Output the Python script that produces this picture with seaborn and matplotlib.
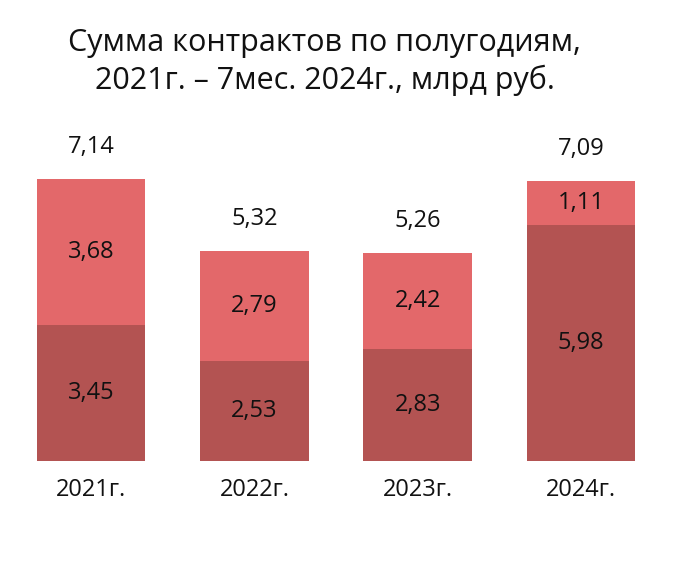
import matplotlib
matplotlib.use('Agg')
import matplotlib.pyplot as plt
import seaborn as sns
import pandas as pd

years = ["2021г.", "2022г.", "2023г.", "2024г."]
first_half = [3.45, 2.53, 2.83, 5.98]
second_half = [3.68, 2.79, 2.42, 1.11]
totals = [7.14, 5.32, 5.26, 7.09]

dark = "#b35352"
light = "#e3686a"

sns.set_theme(style="white")
plt.rcParams['font.family'] = ['Open Sans', 'DejaVu Sans']

df = pd.DataFrame({"year": years, "h1": first_half, "h2": second_half, "total": totals})

fig = plt.figure(figsize=(6.84, 5.65), dpi=100)
ax = fig.add_axes([0.0139, 0.184, 0.955, 0.6035])

# stacked: draw totals in light, then bottom half in dark on top
sns.barplot(data=df, x="year", y="total", color=light, saturation=1, width=0.665,
            linewidth=0, ax=ax)
sns.barplot(data=df, x="year", y="h1", color=dark, saturation=1, width=0.665,
            linewidth=0, ax=ax)

fs = 17
txt = "#111111"
for i, row in df.iterrows():
    ax.text(i, row["h1"] / 2, f"{row['h1']:.2f}".replace(".", ","),
            ha="center", va="center", fontsize=fs, color=txt)
    ax.text(i, row["h1"] + row["h2"] / 2, f"{row['h2']:.2f}".replace(".", ","),
            ha="center", va="center", fontsize=fs, color=txt)
    ax.text(i, row["total"] + 0.81, f"{row['total']:.2f}".replace(".", ","),
            ha="center", va="center", fontsize=fs, color=txt)

ax.set_xlim(-0.5, 3.5)
ax.set_ylim(0, 8.63)
ax.set_xlabel("")
ax.set_ylabel("")
ax.set_yticks([])
ax.tick_params(axis="x", labelsize=fs, colors=txt, pad=12, length=0)
sns.despine(ax=ax, left=True, bottom=True)

fig.text(0.475, 0.89, "Сумма контрактов по полугодиям,\n2021г. – 7мес. 2024г., млрд руб.",
         ha="center", va="center", fontsize=22, color="#111111", linespacing=1.3)

fig.savefig("out.png", dpi=100)
